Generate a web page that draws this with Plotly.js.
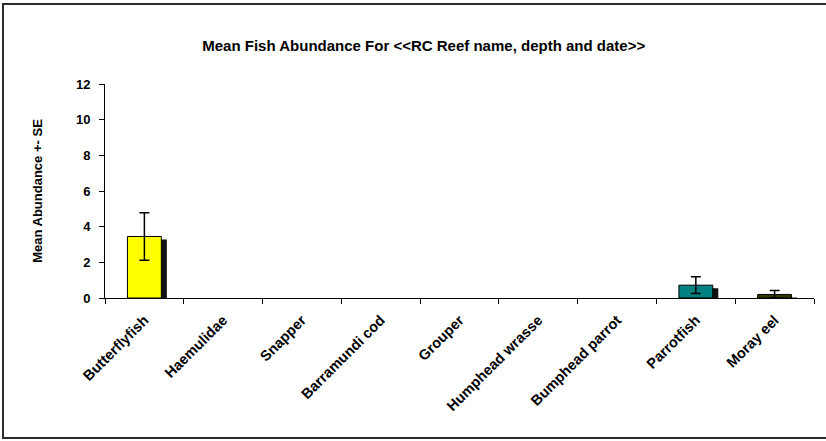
<!DOCTYPE html>
<html>
<head>
<meta charset="utf-8">
<script src="https://cdn.plot.ly/plotly-3.0.1.min.js"></script>
<style>
  html, body { margin: 0; padding: 0; background: #fff; }
  #wrap { position: relative; width: 826px; height: 441px; overflow: hidden; }
  #chart { position: absolute; left: 0; top: 0; width: 826px; height: 441px; }
  #frame { position: absolute; left: 2px; top: 3px; width: 900px; height: 432px;
           border: 2px solid #2b2b2b; pointer-events: none; }
</style>
</head>
<body>
<div id="wrap">
  <div id="chart"></div>
  <div id="frame"></div>
</div>
<script>
const categories = ["Butterflyfish", "Haemulidae", "Snapper", "Barramundi cod", "Grouper",
                    "Humphead wrasse", "Bumphead parrot", "Parrotfish", "Moray eel"];
const meanAbundance = [3.45, 0, 0, 0, 0, 0, 0, 0.72, 0.2];
const standardError = [1.33, 0, 0, 0, 0, 0, 0, 0.47, 0.22];
const barColors = ["#FFFF00", "#FFFF00", "#FFFF00", "#FFFF00", "#FFFF00",
                   "#FFFF00", "#FFFF00", "#008080", "#333300"];

const FONT = "Liberation Sans, Arial, sans-serif";

// drop shadow (same values, shifted right and slightly down)
const shadow = {
  type: "bar",
  x: categories,
  y: meanAbundance,
  base: meanAbundance.map(() => -0.17),
  width: 0.43,
  offset: -0.215 + 0.07,
  marker: { color: "#111111", line: { width: 0 } },
  hoverinfo: "skip",
  showlegend: false
};

const bars = {
  type: "bar",
  x: categories,
  y: meanAbundance,
  width: 0.43,
  offset: -0.215,
  marker: { color: barColors,
            line: { color: "#000000", width: meanAbundance.map(v => (v > 0 ? 1 : 0)) } },
  error_y: { type: "data", array: standardError.map(e => (e > 0 ? e : NaN)), visible: true,
             color: "#000000", thickness: 1.5, width: 5 },
  showlegend: false
};

const layout = {
  width: 826, height: 441,
  margin: { l: 105, r: 12, t: 84, b: 143 },
  paper_bgcolor: "#ffffff",
  plot_bgcolor: "#ffffff",
  barmode: "overlay",
  font: { family: FONT, color: "#000000", size: 12, weight: "bold" },
  title: {
    text: "Mean Fish Abundance For <<RC Reef name, depth and date>>",
    font: { family: FONT, size: 15, weight: "bold", color: "#000" },
    xref: "container", yref: "container",
    x: 0.513, y: 1 - 46 / 441, xanchor: "center", yanchor: "middle"
  },
  xaxis: {
    type: "category",
    showline: true, linecolor: "#000", linewidth: 1,
    ticks: "outside", ticklen: 5, tickcolor: "#000", tickwidth: 1,
    tickson: "boundaries",
    tickangle: -45,
    ticklabelstandoff: 7,
    tickfont: { family: FONT, size: 14.5, weight: "bold", color: "#000" },
    showgrid: false, zeroline: false,
    range: [-0.5, 8.5],
    fixedrange: true
  },
  yaxis: {
    range: [0, 12], dtick: 2, tick0: 0,
    showline: true, linecolor: "#000", linewidth: 1,
    ticks: "outside", ticklen: 5, tickcolor: "#000", tickwidth: 1,
    ticklabelstandoff: 6,
    tickfont: { family: FONT, size: 13, weight: "bold", color: "#000" },
    showgrid: false, zeroline: false,
    title: { text: "Mean Abundance +- SE", standoff: 30,
             font: { family: FONT, size: 13, weight: "bold", color: "#000" } },
    fixedrange: true
  }
};

Plotly.newPlot("chart", [shadow, bars], layout, { displayModeBar: false, staticPlot: true });
</script>
</body>
</html>
